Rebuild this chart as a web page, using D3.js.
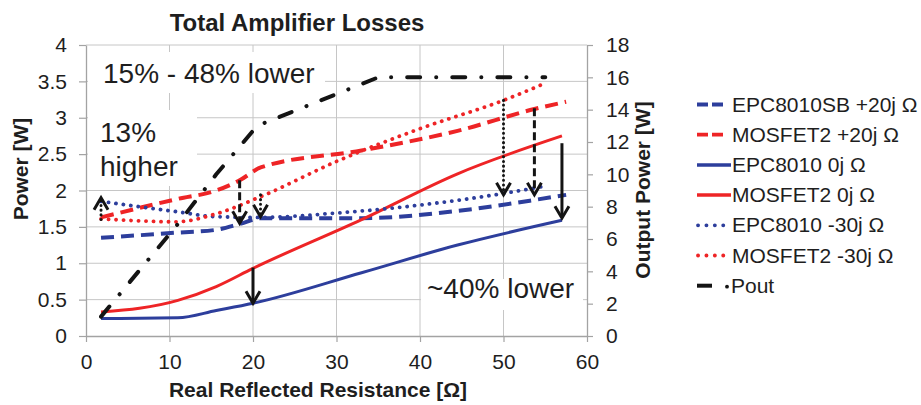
<!DOCTYPE html>
<html>
<head>
<meta charset="utf-8">
<script src="https://cdn.jsdelivr.net/npm/d3@7"></script>
<style>
  body { margin: 0; background: #fff; }
  text { font-family: "Liberation Sans", Arial, Helvetica, sans-serif; fill: #1e1e1e; }
</style>
</head>
<body>
<svg id="chart" width="921" height="405"></svg>
<script>
// Reflected resistance [ohm] of the measured points, per load reactance
const xPlus20  = [1.8, 10.8, 15.6, 18.4, 21, 33, 44.5, 53.7, 57.5];
const xZero    = [1.8, 11, 15.6, 20, 33, 44.5, 57];
const xMinus30 = [1.8, 10.8, 15.6, 21, 30, 40, 50, 54.5];
const xPout    = [1.8, 10.8, 15.6, 20.5, 35, 44.5, 55];

// losses [W]
const epcPlus20  = [1.35, 1.42, 1.46, 1.54, 1.62, 1.62, 1.72, 1.87, 1.94];
const mosPlus20  = [1.63, 1.88, 2.0, 2.14, 2.32, 2.55, 2.82, 3.12, 3.22];
const epcZero    = [0.24, 0.25, 0.35, 0.45, 0.87, 1.25, 1.59];
const mosZero    = [0.33, 0.49, 0.68, 0.93, 1.6, 2.23, 2.75];
const epcMinus30 = [1.85, 1.71, 1.64, 1.63, 1.69, 1.80, 1.96, 2.05];
const mosMinus30 = [1.61, 1.57, 1.68, 1.92, 2.4, 2.85, 3.24, 3.45];
// output power [W]
const pout       = [1.2, 6.8, 10.0, 13.0, 16.0, 16.0, 16.0];

const legendNames = ["EPC8010SB +20j Ω", "MOSFET2 +20j Ω", "EPC8010 0j Ω", "MOSFET2 0j Ω",
                     "EPC8010 -30j Ω", "MOSFET2 -30j Ω", "Pout"];

const xTicks  = [0, 10, 20, 30, 40, 50, 60];
const yTicks  = [0, 0.5, 1, 1.5, 2, 2.5, 3, 3.5, 4];
const y2Ticks = [0, 2, 4, 6, 8, 10, 12, 14, 16, 18];

// comparison arrows: x, start value, tip value
const arrowX    = [1.8, 18.4, 20.9, 20, 50, 53.7, 57];
const arrowFrom = [1.60, 2.14, 1.94, 0.94, 3.24, 3.13, 2.65];
const arrowTo   = [1.90, 1.55, 1.64, 0.45, 1.94, 1.94, 1.62];
const arrowKind = ["dot", "dash", "dot", "solid", "dot", "dash", "solid"];

const BLUE = "#2d3e9c", RED = "#ee2426", BLACK = "#141414";

const styles = {
  dash:  {w: 4,   dash: "13 7",  cap: "butt"},
  solid: {w: 3,   dash: null,    cap: "butt"},
  dot:   {w: 3.8, dash: "0.1 7.4", cap: "round"},
  pout:  {w: 4,   dash: "13 16 0.1 16", cap: "round"}
};

const series = [
  {xs: xPlus20,  ys: epcPlus20,  color: BLUE,  kind: "dash",  axis: "left"},
  {xs: xPlus20,  ys: mosPlus20,  color: RED,   kind: "dash",  axis: "left"},
  {xs: xZero,    ys: epcZero,    color: BLUE,  kind: "solid", axis: "left"},
  {xs: xZero,    ys: mosZero,    color: RED,   kind: "solid", axis: "left"},
  {xs: xMinus30, ys: epcMinus30, color: BLUE,  kind: "dot",   axis: "left"},
  {xs: xMinus30, ys: mosMinus30, color: RED,   kind: "dot",   axis: "left"},
  {xs: xPout,    ys: pout,       color: BLACK, kind: "pout",  axis: "right"}
];

const svg = d3.select("#chart");
const x  = d3.scaleLinear().domain([0, 60]).range([86, 587]);
const y  = d3.scaleLinear().domain([0, 4]).range([336, 45]);
const y2 = d3.scaleLinear().domain([0, 18]).range([336, 45]);

// gridlines
const grid = svg.append("g").attr("stroke", "#c6c6c6").attr("stroke-width", 1);
grid.selectAll(".gx").data(xTicks.slice(1, -1)).enter().append("line")
  .attr("x1", d => x(d)).attr("x2", d => x(d)).attr("y1", y(4)).attr("y2", y(0));
grid.selectAll(".gy").data(yTicks.slice(1)).enter().append("line")
  .attr("x1", x(0)).attr("x2", x(60)).attr("y1", d => y(d)).attr("y2", d => y(d));

// white text boxes of the annotations
const boxes = [[88, 52, 237, 41], [88, 110, 109, 76], [421, 279, 162, 31]];
svg.selectAll(".box").data(boxes).enter().append("rect")
  .attr("x", d => d[0]).attr("y", d => d[1]).attr("width", d => d[2]).attr("height", d => d[3])
  .attr("fill", "#fff");

// axes
function styleAxis(g) {
  g.selectAll("path").attr("stroke", "#a3a3a3").attr("stroke-width", 1.3);
  g.selectAll("line").attr("stroke", "#a3a3a3").attr("stroke-width", 1.2);
  g.selectAll("text").attr("font-size", 21).attr("fill", "#222");
}
svg.append("g").attr("transform", `translate(0,${y(0)})`)
  .call(d3.axisBottom(x).tickValues(xTicks).tickSize(6).tickSizeOuter(0).tickPadding(12))
  .call(styleAxis);
svg.append("g").attr("transform", `translate(${x(0)},0)`)
  .call(d3.axisLeft(y).tickValues(yTicks).tickFormat(d => String(d)).tickSize(7).tickSizeOuter(0).tickPadding(12))
  .call(styleAxis);
svg.append("g").attr("transform", `translate(${x(60)},0)`)
  .call(d3.axisRight(y2).tickValues(y2Ticks).tickSize(6).tickSizeOuter(0).tickPadding(13))
  .call(styleAxis);
svg.selectAll(".domain").attr("stroke", "#a3a3a3");

// series lines
series.forEach(s => {
  const st = styles[s.kind];
  const yy = s.axis === "left" ? y : y2;
  const line = d3.line()
    .x(d => x(d[0])).y(d => yy(d[1]))
    .curve(s.kind === "pout" ? d3.curveLinear : d3.curveMonotoneX);
  svg.append("path")
    .datum(s.xs.map((v, i) => [v, s.ys[i]]))
    .attr("d", line)
    .attr("fill", "none")
    .attr("stroke", s.color)
    .attr("stroke-width", st.w)
    .attr("stroke-dasharray", st.dash)
    .attr("stroke-linecap", st.cap)
    .attr("stroke-linejoin", "round");
});

// arrows
const arrowDash = {dot: "0.1 4.6", dash: "8 4", solid: null};
arrowX.forEach((ax, i) => {
  const px = x(ax), p0 = y(arrowFrom[i]), p1 = y(arrowTo[i]);
  const dir = p1 > p0 ? 1 : -1;
  const g = svg.append("g").attr("stroke", BLACK).attr("fill", "none");
  g.append("line")
    .attr("x1", px).attr("x2", px).attr("y1", p0).attr("y2", p1 - dir * 1)
    .attr("stroke-width", 3)
    .attr("stroke-dasharray", arrowDash[arrowKind[i]])
    .attr("stroke-linecap", arrowKind[i] === "dot" ? "round" : "butt");
  g.append("path")
    .attr("d", `M${px - 7},${p1 - dir * 12}L${px},${p1}L${px + 7},${p1 - dir * 12}`)
    .attr("stroke-width", 3)
    .attr("stroke-linejoin", "miter");
});

// annotation texts
const notes = [["15% - 48% lower", 103, 83], ["13%", 100, 142], ["higher", 100, 176], ["~40% lower", 427, 298]];
svg.selectAll(".note").data(notes).enter().append("text")
  .attr("x", d => d[1]).attr("y", d => d[2])
  .attr("font-size", 28)
  .text(d => d[0]);

// titles
svg.append("text").attr("x", 297).attr("y", 31).attr("text-anchor", "middle")
  .attr("font-size", 24).attr("font-weight", "bold").text("Total Amplifier Losses");
svg.append("text").attr("x", 318).attr("y", 397).attr("text-anchor", "middle")
  .attr("font-size", 21).attr("font-weight", "bold").text("Real Reflected Resistance [Ω]");
svg.append("text").attr("transform", "translate(28,169) rotate(-90)").attr("text-anchor", "middle")
  .attr("font-size", 21).attr("font-weight", "bold").text("Power [W]");
svg.append("text").attr("transform", "translate(650,190) rotate(-90)").attr("text-anchor", "middle")
  .attr("font-size", 21).attr("font-weight", "bold").text("Output Power [W]");

// legend
const legend = svg.append("g");
const legendStyle = [
  {kind: "dash", color: BLUE}, {kind: "dash", color: RED},
  {kind: "solid", color: BLUE}, {kind: "solid", color: RED},
  {kind: "dot", color: BLUE}, {kind: "dot", color: RED},
  {kind: "pout", color: BLACK}
];
legendNames.forEach((name, i) => {
  const by = 111.5 + i * 30.2;
  const ly = by - 7;
  const ls = legendStyle[i];
  if (ls.kind === "pout") {
    legend.append("line").attr("x1", 697).attr("x2", 712).attr("y1", ly).attr("y2", ly)
      .attr("stroke", ls.color).attr("stroke-width", 4);
    legend.append("circle").attr("cx", 727).attr("cy", ly + 1).attr("r", 1.9).attr("fill", ls.color);
  } else {
    const ld = {dash: "11 4", solid: null, dot: "0.1 8.3"}[ls.kind];
    legend.append("line").attr("x1", ls.kind === "dot" ? 698 : 697).attr("x2", ls.kind === "solid" ? 731 : 724)
      .attr("y1", ly).attr("y2", ly)
      .attr("stroke", ls.color).attr("stroke-width", ls.kind === "solid" ? 3.5 : 3.8)
      .attr("stroke-dasharray", ld)
      .attr("stroke-linecap", ls.kind === "dot" ? "round" : "butt");
  }
  legend.append("text").attr("x", ls.kind === "pout" ? 731 : 732).attr("y", by)
    .attr("font-size", 21).text(name);
});
</script>
</body>
</html>
